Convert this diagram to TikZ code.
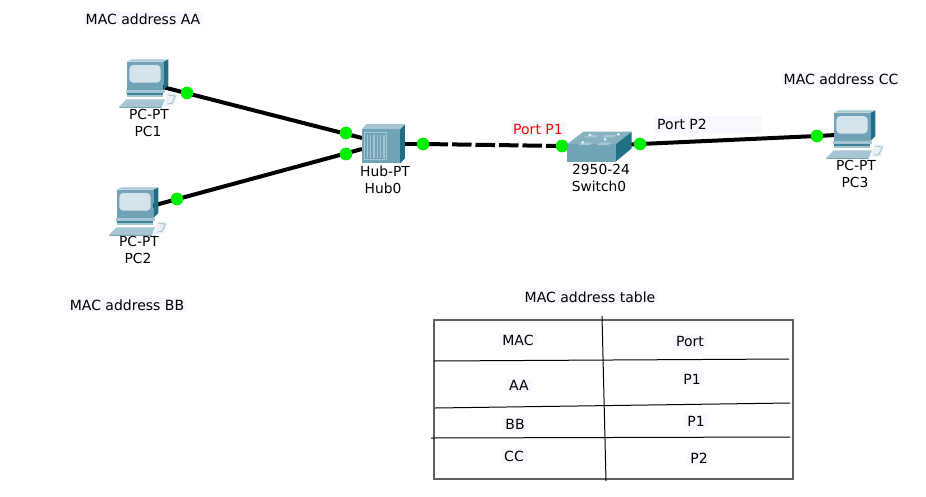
\documentclass[tikz,border=0pt]{standalone}
\usepackage{fontspec}
\setmainfont{DejaVu Sans}
\definecolor{labbg}{HTML}{F8F9FF}
\definecolor{tealA}{HTML}{6FA3B5}
\definecolor{tealB}{HTML}{3F8299}
\definecolor{tealC}{HTML}{1F7087}
\definecolor{tealD}{HTML}{A5C6D2}
\definecolor{screenc}{HTML}{D5E4EC}
\definecolor{portgreen}{HTML}{00F000}
\definecolor{framegray}{HTML}{606060}
\tikzset{
  >=latex,
  devspot/.style={inner sep=0pt,minimum size=10pt},
  portdot/.style={circle,fill=portgreen,draw=none,inner sep=0pt,minimum size=12.5pt},
  linkline/.style={line width=4pt,black},
  devlabel/.style={font=\fontsize{13.8}{15}\selectfont,inner sep=0.5pt,text=black},
  notelabel/.style={font=\fontsize{14}{16}\selectfont,fill=labbg,inner xsep=3pt,inner ysep=2pt,text=black},
  rowline/.style={line width=1pt,black},
  pcicon/.pic={
    \begin{scope}[x=0.3333pt,y=-0.3333pt]
      \fill[white!85!tealA] (232,160) -- (262,162) -- (252,196) -- (222,198) -- cycle;
      \draw[tealD,line width=1pt] (236,166) -- (256,168) -- (246,190) -- (232,192);
      \fill[tealD] (88,200) -- (110,178) -- (225,178) -- (216,200) -- cycle;
      \fill[tealA] (88,200) -- (216,200) -- (214,204) -- (88,204) -- cycle;
      \fill[tealC] (220,65) -- (235,58) -- (235,135) -- (220,150) -- cycle;
      \fill[tealD] (110,65) -- (125,58) -- (235,58) -- (220,65) -- cycle;
      \fill[tealA] (110,65) rectangle (220,150);
      \fill[screenc,rounded corners=4pt] (118,75) rectangle (212,128);
      \fill[tealD] (108,150) -- (225,150) -- (225,158) -- (108,158) -- cycle;
      \fill[tealB] (110,158) rectangle (220,165);
      \fill[tealD] (110,165) rectangle (220,172);
    \end{scope}
  },
  hubicon/.pic={
    \begin{scope}[x=0.3333pt,y=-0.3333pt]
      \fill[tealC] (210,58) -- (225,42) -- (225,145) -- (210,160) -- cycle;
      \fill[tealD] (95,58) -- (110,42) -- (225,42) -- (210,58) -- cycle;
      \fill[tealA] (95,58) rectangle (210,160);
      \draw[tealD,line width=0.8pt] (104,68) rectangle (170,148);
      \foreach \xx in {112,122,132,142,152,162}
        \draw[tealD,line width=1.2pt] (\xx,74) -- (\xx,144);
    \end{scope}
  },
  switchicon/.pic={
    \begin{scope}[x=0.3333pt,y=-0.3333pt]
      \fill[tealC] (197,102) -- (245,65) -- (245,115) -- (197,155) -- cycle;
      \fill[tealA] (52,102) rectangle (197,155);
      \fill[tealA!85!white] (52,102) -- (100,65) -- (245,65) -- (197,102) -- cycle;
      \foreach \xa/\ya in {112/75,165/75,95/97,150/97}
        \fill[tealD] (\xa,\ya) -- (\xa+35,\ya) -- (\xa+25,\ya+8) -- (\xa-10,\ya+8) -- cycle;
      \foreach \xa/\ya in {120/74,205/73,98/97,165/88}
        \fill[white] (\xa,\ya) circle (4);
    \end{scope}
  }
}
\begin{document}
\begin{tikzpicture}[x=1pt,y=-1pt]
\useasboundingbox (0,0) rectangle (926,496);
\fill[white] (0,0) rectangle (926,496);
% device anchors
\node[devspot] (pc1) at (147,83) {};
\node[devspot] (pc2) at (137,210) {};
\node[devspot] (pc3) at (855,134) {};
\node[devspot] (hubin1) at (362,138) {};
\node[devspot] (hubin2) at (362,149) {};
\node[devspot] (hubout) at (390,144) {};
\node[devspot] (swin) at (590,147) {};
\node[devspot] (swout) at (620,145) {};
% port lights
\node[portdot] (d1) at (187,93) {};
\node[portdot] (d2) at (177,199) {};
\node[portdot] (d3) at (346,133) {};
\node[portdot] (d4) at (346,154) {};
\node[portdot] (d5) at (423,144) {};
\node[portdot] (d6) at (562,146) {};
\node[portdot] (d7) at (640,144) {};
\node[portdot] (d8) at (817,136) {};
% links
\draw[linkline] (pc1.center) -- (hubin1.center);
\draw[linkline] (pc2.center) -- (hubin2.center);
\draw[linkline] (hubout.center) -- (d5.center);
\draw[linkline,dash pattern=on 19.5pt off 4pt,dash phase=18pt] (d5.center) -- (d6.center);
\draw[linkline] (d6.center) -- (swin.center);
\draw[linkline] (swout.center) -- (d7.center) -- (d8.center) -- (pc3.center);
% icons
\pic at (90,40) {pcicon};
\pic at (80,168) {pcicon};
\pic at (797,91) {pcicon};
\pic at (330,110) {hubicon};
\pic at (550,110) {switchicon};
% redraw lights on top
\foreach \n in {d1,d2,d3,d4,d5,d6,d7,d8}
  \fill[portgreen] (\n) circle (6.2pt);
% device labels
\node[devlabel] (t1) at (149,114) {PC-PT};
\node[devlabel] (t2) at (148,131) {PC1};
\node[devlabel] (t3) at (139,241) {PC-PT};
\node[devlabel] (t4) at (138,258) {PC2};
\node[devlabel] (t5) at (856,165) {PC-PT};
\node[devlabel] (t6) at (855,182) {PC3};
\node[devlabel] (t7) at (385,171) {Hub-PT};
\node[devlabel] (t8) at (383,188) {Hub0};
\node[devlabel] (t9) at (601,169) {2950-24};
\node[devlabel] (t10) at (599,186) {Switch0};
% notes
\node[notelabel] (n1) at (143,19) {MAC address AA};
\node[notelabel] (n2) at (127,305) {MAC address BB};
\node[notelabel] (n3) at (841,79) {MAC address CC};
\node[notelabel,text=red] (n4) at (538,129) {Port P1};
\fill[labbg] (654,116) rectangle (762,133);
\node[notelabel,fill=none] (n5) at (682,124) {Port P2};
\node[notelabel] (n6) at (590,297) {MAC address table};
% table
\draw[framegray,line width=1.3pt] (434,320) rectangle (793,479);
\draw[rowline] (602,316) -- (606,481);
\draw[rowline] (434,361) -- (789,359);
\draw[rowline] (435,408) -- (790,403);
\draw[rowline] (431,438) -- (790,437);
\node[notelabel] (c1) at (518,340) {MAC};
\node[notelabel] (c2) at (690,341) {Port};
\node[notelabel] (c3) at (519,385) {AA};
\node[notelabel] (c4) at (692,379) {P1};
\node[notelabel] (c5) at (515,424) {BB};
\node[notelabel] (c6) at (696,421) {P1};
\node[notelabel] (c7) at (514,456) {CC};
\node[notelabel] (c8) at (699,458) {P2};
\end{tikzpicture}
\end{document}
